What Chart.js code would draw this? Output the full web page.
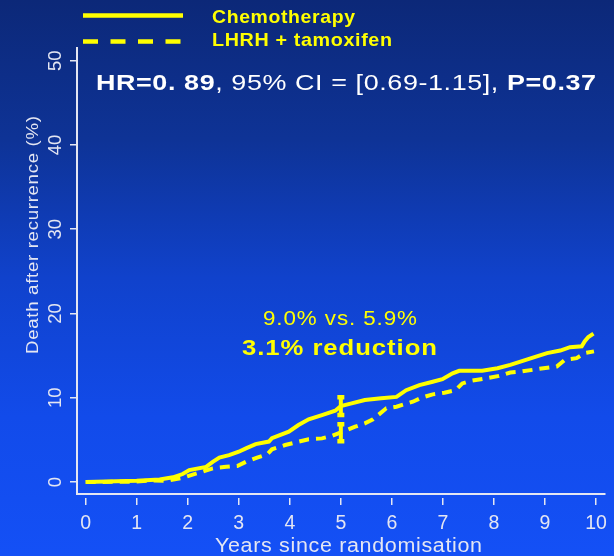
<!DOCTYPE html>
<html>
<head>
<meta charset="utf-8">
<script src="https://cdn.jsdelivr.net/npm/chart.js@4.4.1/dist/chart.umd.min.js"></script>
<style>
  html, body { margin: 0; padding: 0; background: #0c2878; }
  canvas { display: block; }
</style>
</head>
<body>
<canvas id="c" width="614" height="556"></canvas>
<script>
// ---- data ----
const xTickValues = [0, 1, 2, 3, 4, 5, 6, 7, 8, 9, 10];
const yTickValues = [0, 10, 20, 30, 40, 50];

const seriesNames = ['Chemotherapy', 'LHRH + tamoxifen'];

const chemoX = [0, 1.0, 1.45, 1.71, 1.9, 2.03, 2.36, 2.49, 2.62, 2.81, 3.0, 3.14, 3.33, 3.59, 3.65, 3.98, 4.17, 4.37, 4.63, 4.89, 5.0, 5.21, 5.47, 5.79, 6.09, 6.28, 6.54, 6.8, 6.99, 7.19, 7.32, 7.77, 8.07, 8.32, 8.58, 8.84, 9.04, 9.3, 9.49, 9.72, 9.78, 9.85, 9.95];
const chemoY = [0, 0.15, 0.3, 0.56, 0.95, 1.42, 1.8, 2.4, 2.9, 3.2, 3.6, 4.0, 4.5, 4.8, 5.2, 5.97, 6.76, 7.44, 7.95, 8.46, 9.0, 9.34, 9.73, 9.93, 10.1, 10.9, 11.5, 11.9, 12.2, 12.9, 13.2, 13.2, 13.5, 13.9, 14.4, 14.9, 15.3, 15.6, 16.0, 16.1, 16.7, 17.2, 17.6];

const lhrhX = [0, 1.0, 1.3, 1.6, 1.9, 2.05, 2.29, 2.49, 2.75, 2.97, 3.14, 3.36, 3.56, 3.65, 3.91, 4.17, 4.37, 4.63, 4.82, 5.0, 5.05, 5.28, 5.47, 5.63, 5.89, 6.09, 6.41, 6.6, 6.8, 7.03, 7.25, 7.38, 7.54, 7.84, 8.1, 8.32, 8.52, 8.97, 9.23, 9.39, 9.62, 9.78, 9.96];
const lhrhY = [0, 0.05, 0.2, 0.15, 0.5, 0.8, 1.22, 1.62, 1.8, 1.9, 2.4, 2.9, 3.3, 3.88, 4.39, 4.78, 5.07, 5.18, 5.46, 5.9, 6.0, 6.57, 6.96, 7.44, 8.75, 8.94, 9.53, 10.05, 10.4, 10.6, 10.9, 11.7, 12.0, 12.3, 12.6, 13.0, 13.1, 13.5, 13.7, 14.5, 14.7, 15.3, 15.5];

const errorAtX = [5, 5];
const chemoErr = [7.95, 10.05];
const lhrhErr = [4.85, 6.85];

const hrParts = [
  { t: 'HR=0. 89', bold: true },
  { t: ', 95% CI = [0.69-1.15], ', bold: false },
  { t: 'P=0.37', bold: true }
];
const diffLabel = '9.0% vs. 5.9%';
const reductionLabel = '3.1% reduction';
const xTitle = 'Years since randomisation';
const yTitle = 'Death after recurrence (%)';

// ---- styling ----
const YELLOW = '#ffff00';
const AXIS = '#e4e6f2';
const FONT = "'Liberation Sans', Arial, Helvetica, sans-serif";

const toPts = (xs, ys) => xs.map((x, i) => ({ x: x, y: ys[i] }));

function fitText(ctx, parts, x0, width, y, size, color, spacing) {
  // draws parts left-to-right; small letter spacing plus horizontal stretch to span width
  const ls = spacing || 0;
  let natural = 0;
  parts.forEach(p => {
    ctx.font = (p.bold ? 'bold ' : '') + size + 'px ' + FONT;
    ctx.letterSpacing = '0px';
    p.w = ctx.measureText(p.t).width + ls * p.t.length;
    natural += p.w;
  });
  natural -= ls;
  const sx = width / natural;
  ctx.save();
  ctx.translate(x0, y);
  ctx.scale(sx, 1);
  ctx.fillStyle = color;
  ctx.textAlign = 'left';
  ctx.textBaseline = 'middle';
  let x = 0;
  parts.forEach(p => {
    ctx.font = (p.bold ? 'bold ' : '') + size + 'px ' + FONT;
    ctx.letterSpacing = ls + 'px';
    ctx.fillText(p.t, x, 0);
    x += p.w;
  });
  ctx.restore();
  ctx.letterSpacing = '0px';
}

const bgPlugin = {
  id: 'bg',
  beforeDraw(chart) {
    const ctx = chart.ctx;
    const g = ctx.createLinearGradient(0, 0, 0, chart.height);
    g.addColorStop(0, '#0c2878');
    g.addColorStop(0.25, '#0e3396');
    g.addColorStop(0.5, '#1042cc');
    g.addColorStop(0.75, '#124bea');
    g.addColorStop(1, '#1450f6');
    ctx.save();
    ctx.fillStyle = g;
    ctx.fillRect(0, 0, chart.width, chart.height);
    ctx.restore();
  }
};

const textPlugin = {
  id: 'texts',
  afterDraw(chart) {
    const ctx = chart.ctx;
    const ys = chart.scales.y;
    ctx.save();

    // legend samples
    const ds = chart.data.datasets;
    [0, 1].forEach(i => {
      const yy = i === 0 ? 15.5 : 41.5;
      ctx.strokeStyle = ds[i].borderColor;
      ctx.lineWidth = 4.5;
      ctx.setLineDash(i === 0 ? [] : [15, 12.5]);
      ctx.beginPath();
      ctx.moveTo(83, yy);
      ctx.lineTo(183, yy);
      ctx.stroke();
    });
    ctx.setLineDash([]);
    fitText(ctx, [{ t: seriesNames[0], bold: true }], 212, 143, 17.5, 18.5, YELLOW, 0.6);
    fitText(ctx, [{ t: seriesNames[1], bold: true }], 212, 180, 41, 18.5, YELLOW, 0.6);

    // HR line
    fitText(ctx, hrParts, 96, 500, 84, 22.5, '#ffffff', 0.5);

    // annotations
    fitText(ctx, [{ t: diffLabel, bold: false }], 263, 154, 320, 19.5, YELLOW, 0.8);
    fitText(ctx, [{ t: reductionLabel, bold: true }], 242, 195, 349, 21.5, YELLOW, 0.8);

    // x title
    fitText(ctx, [{ t: xTitle, bold: false }], 215, 267, 547, 19.5, AXIS, 0.6);

    // y title (rotated)
    ctx.save();
    ctx.translate(33, 354);
    ctx.rotate(-Math.PI / 2);
    fitText(ctx, [{ t: yTitle, bold: false }], 0, 238, 0, 16.5, AXIS, 0.6);
    ctx.restore();

    // y tick labels (rotated, parallel to the axis)
    ctx.font = '18.5px ' + FONT;
    ctx.fillStyle = AXIS;
    ctx.textAlign = 'center';
    ctx.textBaseline = 'middle';
    ys.ticks.forEach(t => {
      const py = ys.getPixelForValue(t.value);
      ctx.save();
      ctx.translate(56, py);
      ctx.rotate(-Math.PI / 2);
      ctx.fillText(String(t.value), 0, 0);
      ctx.restore();
    });
    ctx.restore();
  }
};

new Chart(document.getElementById('c'), {
  type: 'line',
  data: {
    datasets: [
      {
        label: seriesNames[0],
        data: toPts(chemoX, chemoY),
        borderColor: YELLOW,
        borderWidth: 4,
        tension: 0,
        pointRadius: 0,
        fill: false
      },
      {
        label: seriesNames[1],
        data: toPts(lhrhX, lhrhY),
        borderColor: YELLOW,
        borderWidth: 4,
        borderDash: [10, 7],
        tension: 0,
        pointRadius: 0,
        fill: false
      },
      {
        label: 'Chemotherapy 95% CI',
        data: toPts(errorAtX, chemoErr),
        borderColor: YELLOW,
        backgroundColor: YELLOW,
        borderWidth: 4,
        borderDash: [],
        pointStyle: 'line',
        pointRadius: 3.5,
        pointBorderWidth: 4.5,
        pointBorderColor: YELLOW
      },
      {
        label: 'LHRH + tamoxifen 95% CI',
        data: toPts(errorAtX, lhrhErr),
        borderColor: YELLOW,
        backgroundColor: YELLOW,
        borderWidth: 4,
        borderDash: [],
        pointStyle: 'line',
        pointRadius: 3.5,
        pointBorderWidth: 4.5,
        pointBorderColor: YELLOW
      }
    ]
  },
  options: {
    responsive: false,
    animation: false,
    devicePixelRatio: 1,
    layout: { padding: { left: 0, right: 6, top: 48, bottom: 0 } },
    plugins: {
      legend: { display: false },
      tooltip: { enabled: false }
    },
    scales: {
      x: {
        type: 'linear',
        min: -0.17,
        max: 10.17,
        afterBuildTicks: s => { s.ticks = xTickValues.map(v => ({ value: v })); },
        afterFit: s => { s.height = 62; },
        grid: { display: true, drawOnChartArea: false, drawTicks: true, tickLength: 11, tickBorderDash: [0, 3, 8, 100], color: AXIS, lineWidth: 1.5 },
        border: { display: true, color: AXIS, width: 2 },
        ticks: {
          color: AXIS,
          font: { family: FONT, size: 19.5 },
          padding: 7,
          maxRotation: 0,
          autoSkip: false
        }
      },
      y: {
        type: 'linear',
        min: -1.42,
        max: 51.5,
        afterBuildTicks: s => { s.ticks = yTickValues.map(v => ({ value: v })); },
        afterFit: s => { s.width = 77; },
        grid: { display: true, drawOnChartArea: false, drawTicks: true, tickLength: 7, color: AXIS, lineWidth: 1.5 },
        border: { display: true, color: AXIS, width: 2 },
        ticks: { display: false }
      }
    }
  },
  plugins: [bgPlugin, textPlugin]
});
</script>
</body>
</html>
